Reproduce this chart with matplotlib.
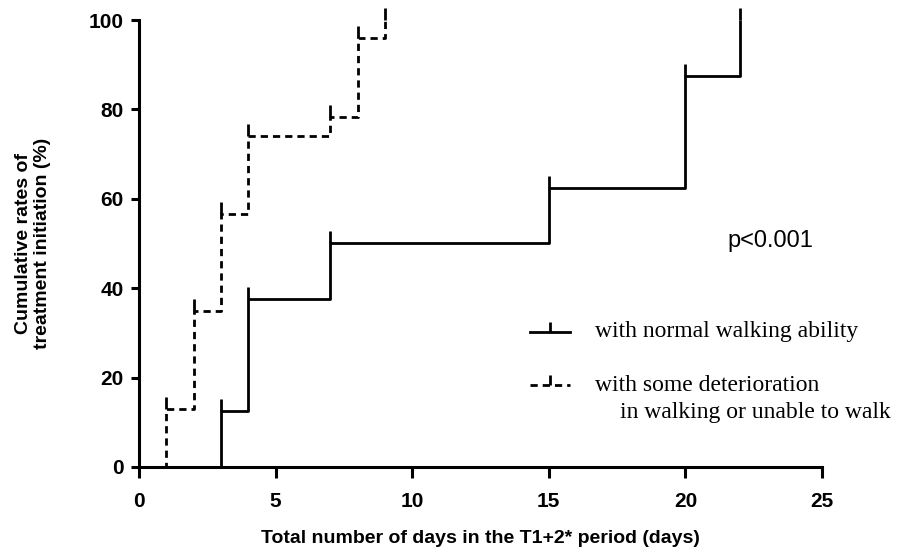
import numpy as np
import matplotlib.pyplot as plt
from matplotlib.lines import Line2D
from matplotlib.markers import TICKUP

# step data (days, cumulative %)
normal_days = [0, 3, 4, 7, 15, 20, 22]
normal_rate = [0, 12.5, 37.5, 50, 62.5, 87.5, 100]
impaired_days = [0, 1, 2, 3, 4, 7, 8, 9]
impaired_rate = [0, 13, 34.8, 56.5, 74, 78.3, 96, 100]

x_ticks = [0, 5, 10, 15, 20, 25]
y_ticks = [0, 20, 40, 60, 80, 100]

sans = ['Liberation Sans Narrow', 'Liberation Sans', 'DejaVu Sans']
serif = ['Liberation Serif', 'DejaVu Serif']

fig = plt.figure(figsize=(9.12, 5.51), dpi=100)
ax = fig.add_axes([0.1524, 0.1525, 0.7489, 0.8112])

lw = 2.0
dash = (0, (2.6, 1.8))
ax.step(normal_days, normal_rate, where='post', color='black', lw=lw,
        clip_on=False, solid_capstyle='butt')
ax.plot(normal_days[1:], normal_rate[1:], ls='none', marker=TICKUP, ms=9,
        mew=lw, color='black', clip_on=False)
ax.step(impaired_days, impaired_rate, where='post', color='black', lw=lw,
        ls=dash, clip_on=False)
ax.plot(impaired_days[1:], impaired_rate[1:], ls='none', marker=TICKUP, ms=9,
        mew=lw, color='black', clip_on=False)

ax.set_xlim(0, 25)
ax.set_ylim(0, 100)
ax.set_xticks(x_ticks)
ax.set_yticks(y_ticks)
for s in ['top', 'right']:
    ax.spines[s].set_visible(False)
for s in ['left', 'bottom']:
    ax.spines[s].set_linewidth(2.2)
ax.tick_params(axis='x', direction='out', length=8, width=2.2, pad=10)
ax.tick_params(axis='y', direction='out', length=6, width=2.2, pad=5)
for lab in ax.get_xticklabels() + ax.get_yticklabels():
    lab.set_family(sans)
    lab.set_fontweight('bold')
    lab.set_fontsize(15)

ax.set_xlabel('Total number of days in the T1+2* period (days)', family=sans,
              fontweight='bold', fontsize=14, labelpad=14)
ax.set_ylabel('Cumulative rates of\ntreatment initiation (%)', family=sans,
              fontweight='bold', fontsize=14, labelpad=27)

ax.text(0.924, 0.506, 'p<0.001', transform=ax.transAxes, ha='center',
        va='center', family=sans, fontsize=17)

# legend drawn by hand so the second label can wrap like the original
for yy, style in [(0.302, '-'), (0.183, dash)]:
    ax.add_line(Line2D([0.572, 0.631], [yy, yy], transform=ax.transAxes,
                       color='black', lw=lw, ls=style))
    ax.add_line(Line2D([0.6015], [yy], transform=ax.transAxes, color='black',
                       marker=TICKUP, ms=7, mew=lw, ls='none'))
ax.text(0.668, 0.302, 'with normal walking ability', transform=ax.transAxes,
        va='center', family=serif, fontsize=17)
ax.text(0.668, 0.183, 'with some deterioration', transform=ax.transAxes,
        va='center', family=serif, fontsize=17)
ax.text(0.704, 0.121, 'in walking or unable to walk', transform=ax.transAxes,
        va='center', family=serif, fontsize=17)

fig.savefig('out.png', dpi=100)
